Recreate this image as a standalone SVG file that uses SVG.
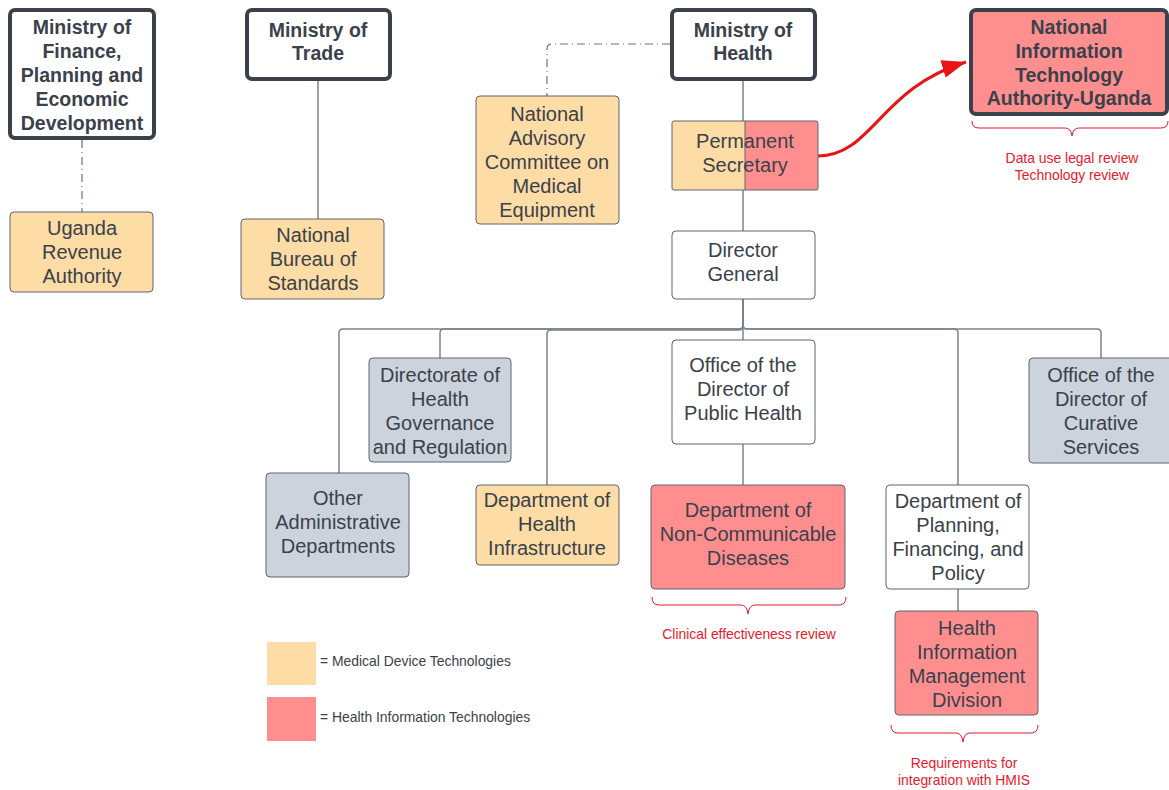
<svg xmlns="http://www.w3.org/2000/svg" width="1169" height="790" viewBox="0 0 1169 790">
<defs>
<style>
text{font-family:"Liberation Sans",Arial,sans-serif;fill:#3a414a;text-anchor:middle}
.t{font-size:20px}
.b{font-size:19.5px;font-weight:bold}
.ann{font-size:13.9px;fill:#e8192c}
.leg{font-size:13.9px;text-anchor:start}
.min{fill:#ffffff;stroke:#3a414a;stroke-width:4}
.nd{stroke:#5e6470;stroke-width:1}
.or{fill:#fedca5}
.rd{fill:#ff8f8f}
.gy{fill:#cdd3dc}
.wh{fill:#ffffff}
.ln{fill:none;stroke:#7b838c;stroke-width:1.5}
.dd{fill:none;stroke:#6b7280;stroke-width:1.2;stroke-dasharray:8 4 1 4}
.br{fill:none;stroke:#e8192c;stroke-width:1}
</style>
<marker id="ah" markerUnits="userSpaceOnUse" markerWidth="26" markerHeight="20" refX="24" refY="10" orient="auto">
<path d="M0,1 L24,10 L0,19 Z" fill="#e81416"/>
</marker>
</defs>
<rect width="1169" height="790" fill="#ffffff"/>

<g id="connectors">
<path class="dd" d="M82,140 V212"/>
<path class="dd" d="M670,44 H552 Q547,44 547,49 V96"/>
<path class="ln" d="M318,81 V219"/>
<path class="ln" d="M743,81 V121"/>
<path class="ln" d="M743,190 V231"/>
<path class="ln" d="M743,299 V325 Q743,329 739,329 H343 Q339,329 339,333 V473"/>
<path class="ln" d="M743,299 V325 Q743,329 739,329 H444 Q440,329 440,333 V358"/>
<path class="ln" d="M743,299 V326 Q743,330 739,330 H551 Q547,330 547,334 V485"/>
<path class="ln" d="M743,299 V340"/>
<path class="ln" d="M743,299 V325 Q743,329 747,329 H954 Q958,329 958,333 V485"/>
<path class="ln" d="M743,299 V325 Q743,329 747,329 H1097 Q1101,329 1101,333 V358"/>
<path class="ln" d="M743,444 V485"/>
<path class="ln" d="M958,589 V611"/>
<path d="M818,156 C872,156 880,88 966,62" fill="none" stroke="#e81416" stroke-width="3" marker-end="url(#ah)"/>
</g>

<g id="mofped">
<rect class="min" x="10" y="10" width="144" height="128" rx="5"/>
<text class="b" x="82" y="34">Ministry of</text>
<text class="b" x="82" y="58">Finance,</text>
<text class="b" x="82" y="82">Planning and</text>
<text class="b" x="82" y="106">Economic</text>
<text class="b" x="82" y="130">Development</text>
</g>
<g id="mot">
<rect class="min" x="247" y="10" width="143" height="69" rx="5"/>
<text class="b" x="318" y="37">Ministry of</text>
<text class="b" x="318" y="60">Trade</text>
</g>
<g id="moh">
<rect class="min" x="672" y="10" width="143" height="69" rx="5"/>
<text class="b" x="743" y="37">Ministry of</text>
<text class="b" x="743" y="60">Health</text>
</g>
<g id="nita">
<rect class="min" x="971" y="10" width="196" height="104" rx="5" style="fill:#ff8f8f"/>
<text class="b" x="1069" y="34">National</text>
<text class="b" x="1069" y="58">Information</text>
<text class="b" x="1069" y="82">Technology</text>
<text class="b" x="1069" y="105">Authority-Uganda</text>
</g>

<g id="ura">
<rect class="nd or" x="10" y="212" width="143" height="80" rx="4"/>
<text class="t" x="82" y="235">Uganda</text>
<text class="t" x="82" y="259">Revenue</text>
<text class="t" x="82" y="283">Authority</text>
</g>
<g id="nbs">
<rect class="nd or" x="241" y="219" width="143" height="80" rx="4"/>
<text class="t" x="313" y="242">National</text>
<text class="t" x="313" y="266">Bureau of</text>
<text class="t" x="313" y="290">Standards</text>
</g>
<g id="nac">
<rect class="nd or" x="476" y="96" width="143" height="128" rx="4"/>
<text class="t" x="547" y="121">National</text>
<text class="t" x="547" y="145">Advisory</text>
<text class="t" x="547" y="169">Committee on</text>
<text class="t" x="547" y="193">Medical</text>
<text class="t" x="547" y="217">Equipment</text>
</g>
<g id="ps">
<rect class="or" x="672" y="121" width="73" height="69"/>
<rect class="rd" x="745" y="121" width="73" height="69"/>
<rect x="672" y="121" width="146" height="69" rx="2" fill="none" stroke="#5e6470" stroke-width="1"/>
<line x1="745" y1="121" x2="745" y2="190" stroke="#5e6470" stroke-width="1"/>
<text class="t" x="745" y="148">Permanent</text>
<text class="t" x="745" y="172">Secretary</text>
</g>
<g id="dg">
<rect class="nd wh" x="672" y="231" width="143" height="68" rx="4"/>
<text class="t" x="743" y="257">Director</text>
<text class="t" x="743" y="281">General</text>
</g>
<g id="dhgr">
<rect class="nd gy" x="369" y="358" width="142" height="104" rx="4"/>
<text class="t" x="440" y="382">Directorate of</text>
<text class="t" x="440" y="406">Health</text>
<text class="t" x="440" y="430">Governance</text>
<text class="t" x="440" y="454">and Regulation</text>
</g>
<g id="odph">
<rect class="nd wh" x="672" y="340" width="143" height="104" rx="4"/>
<text class="t" x="743" y="372">Office of the</text>
<text class="t" x="743" y="396">Director of</text>
<text class="t" x="743" y="420">Public Health</text>
</g>
<g id="odcs">
<rect class="nd gy" x="1029" y="358" width="145" height="105" rx="4"/>
<text class="t" x="1101" y="382">Office of the</text>
<text class="t" x="1101" y="406">Director of</text>
<text class="t" x="1101" y="430">Curative</text>
<text class="t" x="1101" y="454">Services</text>
</g>
<g id="oad">
<rect class="nd gy" x="266" y="473" width="143" height="104" rx="4"/>
<text class="t" x="338" y="505">Other</text>
<text class="t" x="338" y="529">Administrative</text>
<text class="t" x="338" y="553">Departments</text>
</g>
<g id="dhi">
<rect class="nd or" x="476" y="485" width="143" height="80" rx="4"/>
<text class="t" x="547" y="507">Department of</text>
<text class="t" x="547" y="531">Health</text>
<text class="t" x="547" y="555">Infrastructure</text>
</g>
<g id="ncd">
<rect class="nd rd" x="651" y="485" width="194" height="104" rx="4"/>
<text class="t" x="748" y="517">Department of</text>
<text class="t" x="748" y="541">Non-Communicable</text>
<text class="t" x="748" y="565">Diseases</text>
</g>
<g id="dpfp">
<rect class="nd wh" x="886" y="485" width="143" height="104" rx="4"/>
<text class="t" x="958" y="508">Department of</text>
<text class="t" x="958" y="532">Planning,</text>
<text class="t" x="958" y="556">Financing, and</text>
<text class="t" x="958" y="580">Policy</text>
</g>
<g id="himd">
<rect class="nd rd" x="895" y="611" width="143" height="104" rx="4"/>
<text class="t" x="967" y="635">Health</text>
<text class="t" x="967" y="659">Information</text>
<text class="t" x="967" y="683">Management</text>
<text class="t" x="967" y="707">Division</text>
</g>

<g id="annotations">
<path class="br" d="M972,121 Q972,128 979,128 H1065 Q1071,128 1072,136 Q1073,128 1079,128 H1161 Q1168,128 1168,121"/>
<text class="ann" x="1072" y="163">Data use legal review</text>
<text class="ann" x="1072" y="180">Technology review</text>
<path class="br" d="M652,597 Q652,605 659,605 H741 Q747,605 748,614 Q749,605 755,605 H839 Q846,605 846,597"/>
<text class="ann" x="749" y="639">Clinical effectiveness review</text>
<path class="br" d="M891,725 Q891,733 898,733 H956 Q962,733 963,742 Q964,733 970,733 H1031 Q1038,733 1038,725"/>
<text class="ann" x="964" y="768">Requirements for</text>
<text class="ann" x="964" y="785">integration with HMIS</text>
</g>

<g id="legend">
<rect x="267" y="642" width="49" height="43" fill="#fedca5"/>
<text class="leg" x="320" y="666">= Medical Device Technologies</text>
<rect x="267" y="697" width="49" height="44" fill="#ff8f8f"/>
<text class="leg" x="320" y="722">= Health Information Technologies</text>
</g>
</svg>
